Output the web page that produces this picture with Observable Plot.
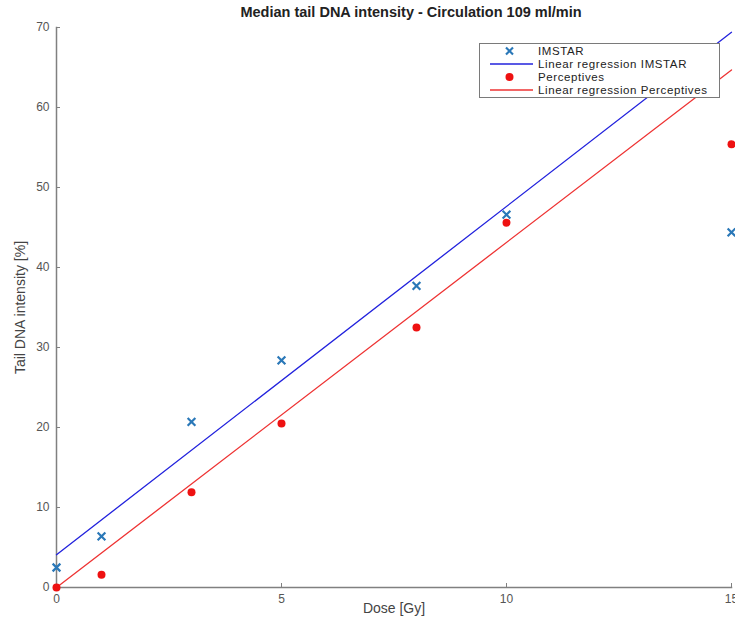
<!DOCTYPE html>
<html>
<head>
<meta charset="utf-8">
<script src="https://cdn.jsdelivr.net/npm/d3@7"></script>
<script src="https://cdn.jsdelivr.net/npm/@observablehq/plot@0.6"></script>
<style>
  body { margin: 0; background: #fff; font-family: "Liberation Sans", Arial, sans-serif; }
  #wrap { position: relative; width: 735px; height: 625px; overflow: hidden; }
  #legend { position: absolute; left: 479px; top: 43px; width: 239px; height: 53px;
    background: #fff; border: 1px solid #7a7a7a; font-size: 11.5px; color: #222; }
  .row { position: absolute; left: 0; height: 12px; line-height: 12px; white-space: nowrap; }
  .row svg { position: absolute; left: 0; top: -1px; }
  .row span { position: absolute; left: 58px; top: 0; letter-spacing: 0.6px; }
</style>
</head>
<body>
<div id="wrap"></div>
<script>
// ---- data ----
const doses = [0, 1, 3, 5, 8, 10, 15];
const imstar = [2.5, 6.4, 20.7, 28.4, 37.7, 46.6, 44.4];
const perceptives = [0.0, 1.6, 11.9, 20.5, 32.5, 45.6, 55.4];
const fitX = [0, 15];
const imstarFit = [4.1, 69.4];
const perceptivesFit = [0.0, 64.7];
const xTicks = [0, 5, 10, 15];
const yTicks = [0, 10, 20, 30, 40, 50, 60, 70];
const seriesNames = ["IMSTAR", "Linear regression IMSTAR", "Perceptives", "Linear regression Perceptives"];
const titleText = "Median tail DNA intensity - Circulation 109 ml/min";
const xLabel = "Dose [Gy]";
const yLabel = "Tail DNA intensity [%]";

const cIm = "#2a78b8", cImLine = "#2222dd", cPe = "#ee1111", cPeLine = "#ee3333";

const imPts = doses.map((d, i) => ({x: d, y: imstar[i]}));
const pePts = doses.map((d, i) => ({x: d, y: perceptives[i]}));
const imLine = fitX.map((d, i) => ({x: d, y: imstarFit[i]}));
const peLine = fitX.map((d, i) => ({x: d, y: perceptivesFit[i]}));

const chart = Plot.plot({
  width: 735,
  height: 625,
  marginTop: 27,
  marginBottom: 38,
  marginLeft: 56,
  marginRight: 4,
  style: {fontFamily: "Liberation Sans, Arial, sans-serif", fontSize: "12px", background: "#fff"},
  x: {domain: [0, 15]},
  y: {domain: [0, 70]},
  marks: [
    Plot.frame({anchor: "left", stroke: "#808080", strokeWidth: 1.5}),
    Plot.frame({anchor: "bottom", stroke: "#808080", strokeWidth: 1.5}),
    Plot.axisX(xTicks, {tickSize: -4, tickPadding: 11, stroke: "#808080", fill: "#555", fontSize: 12, label: null}),
    Plot.axisY(yTicks, {tickSize: -4, tickPadding: 11, stroke: "#808080", fill: "#555", fontSize: 12, label: null}),
    Plot.line(imLine, {x: "x", y: "y", stroke: cImLine, strokeWidth: 1.3, clip: false}),
    Plot.line(peLine, {x: "x", y: "y", stroke: cPeLine, strokeWidth: 1.3, clip: false}),
    Plot.dot(imPts, {x: "x", y: "y", symbol: "times", r: 3.6, stroke: cIm, strokeWidth: 2.2, clip: false}),
    Plot.dot(pePts, {x: "x", y: "y", r: 4, fill: cPe, stroke: null, clip: false}),
    Plot.text([titleText], {frameAnchor: "top", dx: 17, dy: -21, fontWeight: "bold", fontSize: 14.5, fill: "#222"}),
    Plot.text([xLabel], {frameAnchor: "bottom", dy: 25, fontSize: 14, fill: "#444"}),
    Plot.text([yLabel], {frameAnchor: "left", textAnchor: "middle", dx: -36, rotate: -90, fontSize: 14, fill: "#444"})
  ]
});
document.getElementById("wrap").appendChild(chart);

// legend
const legend = document.createElement("div");
legend.id = "legend";
const rowTops = [1, 14, 27, 40];
seriesNames.forEach((name, i) => {
  const row = document.createElement("div");
  row.className = "row";
  row.style.top = rowTops[i] + "px";
  row.style.width = "239px";
  let sym = "";
  if (i === 0) sym = `<line x1="26" y1="3.5" x2="33" y2="10.5" stroke="${cIm}" stroke-width="2.2"/><line x1="33" y1="3.5" x2="26" y2="10.5" stroke="${cIm}" stroke-width="2.2"/>`;
  if (i === 1) sym = `<line x1="10" y1="7" x2="53" y2="7" stroke="${cImLine}" stroke-width="1.3"/>`;
  if (i === 2) sym = `<circle cx="29.5" cy="7" r="4" fill="${cPe}"/>`;
  if (i === 3) sym = `<line x1="10" y1="7" x2="53" y2="7" stroke="${cPeLine}" stroke-width="1.3"/>`;
  row.innerHTML = `<svg width="58" height="14">${sym}</svg><span>${name}</span>`;
  legend.appendChild(row);
});
document.getElementById("wrap").appendChild(legend);
</script>
</body>
</html>
